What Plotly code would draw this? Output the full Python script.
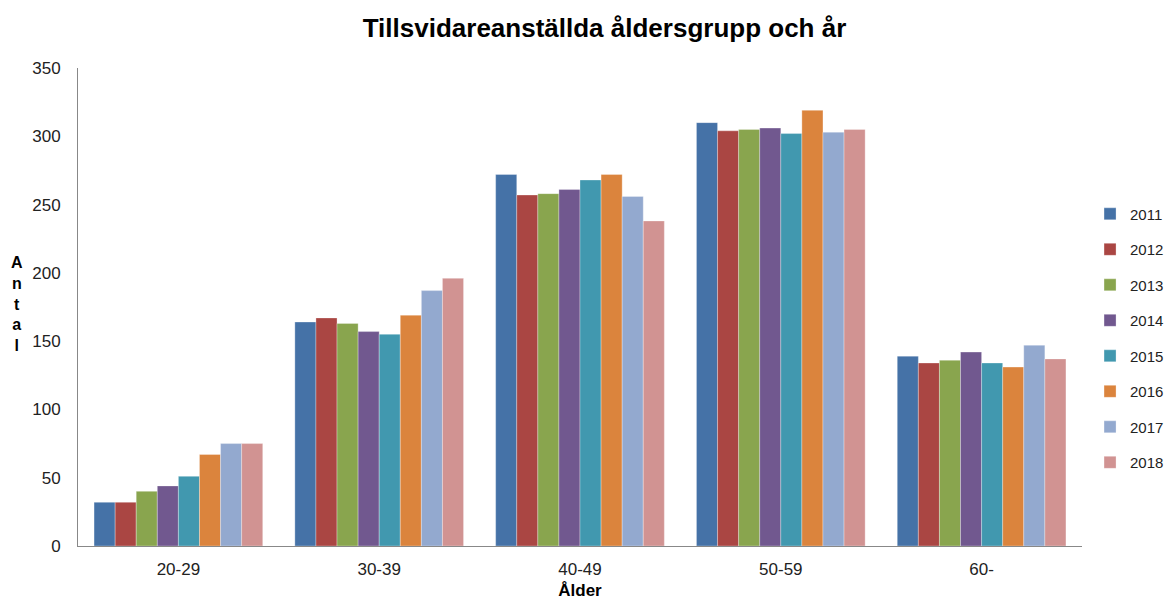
import plotly.graph_objects as go

FONT = "Liberation Sans, Arial, sans-serif"

age_groups = ["20-29", "30-39", "40-49", "50-59", "60-"]
years = ["2011", "2012", "2013", "2014", "2015", "2016", "2017", "2018"]

v2011 = [32, 164, 272, 310, 139]
v2012 = [32, 167, 257, 304, 134]
v2013 = [40, 163, 258, 305, 136]
v2014 = [44, 157, 261, 306, 142]
v2015 = [51, 155, 268, 302, 134]
v2016 = [67, 169, 272, 319, 131]
v2017 = [75, 187, 256, 303, 147]
v2018 = [75, 196, 238, 305, 137]

series = [v2011, v2012, v2013, v2014, v2015, v2016, v2017, v2018]
colors = ["#4572A7", "#AA4643", "#89A54E", "#71588F",
          "#4198AF", "#DB843D", "#93A9CF", "#D19392"]

fig = go.Figure()
for year, values, color in zip(years, series, colors):
    fig.add_trace(go.Bar(
        x=age_groups,
        y=values,
        name=year,
        legendgroup=year,
        marker=dict(color=color, line=dict(color="rgba(255,255,255,0.5)", width=0.6)),
    ))

fig.update_layout(
    width=1167,
    height=601,
    paper_bgcolor="white",
    plot_bgcolor="white",
    barmode="group",
    bargap=0.16,
    bargroupgap=0,
    font=dict(family=FONT, size=16, color="#222"),
    title=dict(
        text="<b>Tillsvidareanställda åldersgrupp och år</b>",
        x=0.518, xanchor="center", y=0.953, yanchor="middle",
        font=dict(family=FONT, size=26, color="black"),
    ),
    margin=dict(l=78, r=85, t=68, b=55, autoexpand=False),
    legend=dict(
        x=1.008, xanchor="left", y=0.435, yanchor="middle",
        font=dict(family=FONT, size=15, color="#222"),
        tracegroupgap=13,
        itemwidth=30,
        bgcolor="rgba(0,0,0,0)",
    ),
    showlegend=True,
)

fig.update_yaxes(
    range=[0, 350],
    tickvals=[0, 50, 100, 150, 200, 250, 300, 350],
    showgrid=False,
    zeroline=False,
    showline=True,
    linecolor="#888",
    linewidth=1,
    ticks="",
    ticklabelstandoff=13,
    tickfont=dict(family=FONT, size=17, color="#222"),
)
fig.update_xaxes(
    showgrid=False,
    showline=True,
    linecolor="#888",
    linewidth=1,
    ticks="",
    ticklabelstandoff=8,
    tickfont=dict(family=FONT, size=17, color="#222"),
    title=dict(text="<b>Ålder</b>", standoff=5, font=dict(family=FONT, size=17, color="black")),
)

fig.add_annotation(
    text="<b>A<br>n<br>t<br>a<br>l</b>",
    xref="paper", yref="paper",
    x=-0.061, y=0.615,
    xanchor="center", yanchor="top",
    showarrow=False,
    align="center",
    font=dict(family=FONT, size=16, color="black"),
)

# drop the default body margin so the fixed-size figure fills the window exactly
fig.write_html(
    "out.html",
    config={"displayModeBar": False},
    post_script="document.body.style.margin = '0';",
)
